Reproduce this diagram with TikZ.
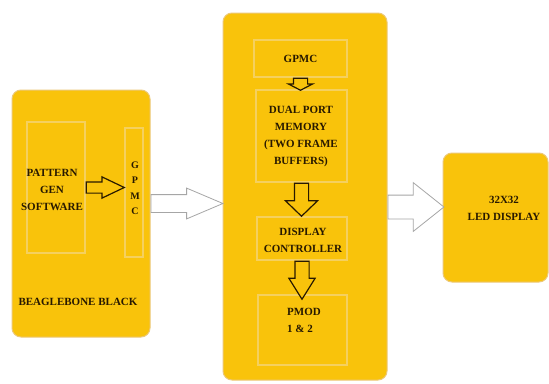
\documentclass[tikz,border=0pt]{standalone}
\usepackage{fontspec}
\setmainfont{Liberation Serif}
\usetikzlibrary{shapes.arrows}

\definecolor{boxfill}{RGB}{249,195,11}
\definecolor{boxedge}{RGB}{236,200,120}
\definecolor{subedge}{RGB}{245,208,95}
\definecolor{ink}{RGB}{40,25,0}

\tikzset{
  mainbox/.style={rectangle,rounded corners=9pt,fill=boxfill,draw=boxedge,line width=1pt},
  subbox/.style={rectangle,draw=subedge,line width=1.3pt},
  lbl/.style={font=\bfseries\fontsize{11}{17}\selectfont,text=ink,align=center,inner sep=0pt},
  hollow/.style={single arrow,draw=gray!70,fill=white,line width=0.8pt,inner xsep=0pt},
  solid/.style={single arrow,draw=ink,fill=boxfill,line width=1.2pt,inner xsep=0pt}
}

\begin{document}
\begin{tikzpicture}[x=1pt,y=-1pt]
   \path[fill=white] (0,0) rectangle (549,383);
   \useasboundingbox (0,0) rectangle (549,383);
   % board on the left
   \node [mainbox,minimum width=138pt,minimum height=247pt] (bb) at (81,213.5) {};
   \node [subbox,minimum width=58pt,minimum height=131pt] (pat) at (56,187.5) {};
   \node [subbox,minimum width=18pt,minimum height=129pt] (gpmcL) at (134,192.5) {};
   \node [lbl] (pattxt) at (52,190) {PATTERN\\GEN\\SOFTWARE};
   \node [lbl,font=\bfseries\fontsize{10}{15.5}\selectfont] (gpmcLtxt) at (135,188) {G\\P\\M\\C};
   \node [lbl] (bbtxt) at (78,302) {BEAGLEBONE BLACK};
   \node [solid,inner ysep=5pt,minimum height=38pt,single arrow head extend=5pt,
          single arrow tip angle=51,anchor=tail] (s1) at (pat.east) {};
   % FPGA block in the middle
   \node [mainbox,minimum width=164pt,minimum height=367pt] (fpga) at (305,196.5) {};
   \node [subbox,lbl,minimum width=93pt,minimum height=37pt] (gpmcM) at (300.5,58.5) {GPMC};
   \node [subbox,minimum width=91pt,minimum height=92pt] (dpm) at (301.5,136) {};
   \node [lbl] (dpmtxt) at (301,137) {DUAL PORT\\MEMORY\\(TWO FRAME\\BUFFERS)};
   \node [subbox,minimum width=90pt,minimum height=43pt] (dc) at (302,238.5) {};
   \node [lbl] (dctxt) at (303,240.5) {DISPLAY\\CONTROLLER};
   \node [subbox,minimum width=89pt,minimum height=70pt] (pmod) at (302.5,330) {};
   \node [lbl,align=left,anchor=north west] (pmodtxt) at (287,308) {PMOD\\1 \& 2};
   % arrows between the stages
   \node [solid,rotate=-90,inner ysep=6.5pt,minimum height=12pt,single arrow head extend=5pt,
          single arrow tip angle=125,anchor=tail] (s2) at (gpmcM.south) {};
   \node [solid,rotate=-90,inner ysep=6.5pt,minimum height=33pt,single arrow head extend=9pt,
          single arrow tip angle=92,anchor=tail] (s3) at (dpm.south) {};
   \node [solid,rotate=-90,inner ysep=6.5pt,minimum height=38pt,single arrow head extend=6pt,
          single arrow tip angle=64,anchor=tail] (s4) at (dc.south) {};
   % display on the right
   \node [mainbox,minimum width=105pt,minimum height=129pt] (led) at (495.5,217.5) {};
   \node [lbl] (ledtxt) at (504,208) {32X32\\LED DISPLAY};
   % links between the boards
   \node [hollow,inner ysep=8.5pt,minimum height=72pt,single arrow head extend=6.5pt,
          single arrow tip angle=46,anchor=tail] (a1) at ([yshift=10pt]bb.east) {};
   \node [hollow,inner ysep=11.5pt,minimum height=56pt,single arrow head extend=12.5pt,
          single arrow tip angle=77,anchor=tail] (a2) at ([yshift=-10.5pt]fpga.east) {};
\end{tikzpicture}
\end{document}
